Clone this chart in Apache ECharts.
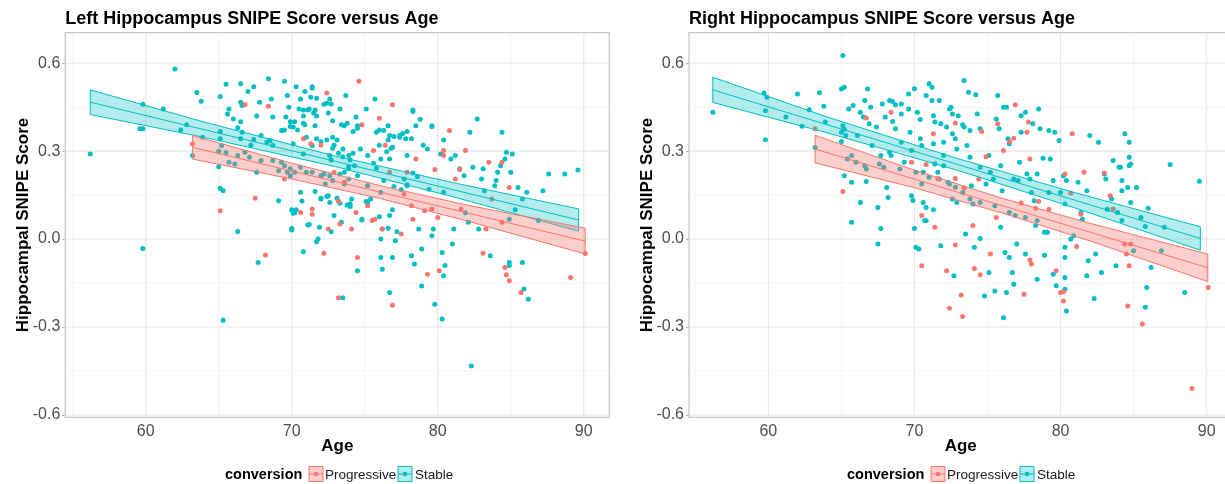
<!DOCTYPE html>
<html><head><meta charset="utf-8">
<script src="https://cdn.jsdelivr.net/npm/echarts@6/dist/echarts.min.js"></script>
<style>html,body{margin:0;padding:0;background:#fff}#c{width:1225px;height:484px}</style>
</head><body><div id="c"></div>
<script>
// ---------- tick labels & gridlines ----------
const ageTicks = [60, 70, 80, 90];
const ageMinor = [55, 65, 75, 85];
const scoreTicks = [-0.6, -0.3, 0, 0.3, 0.6];
const scoreMinor = [-0.45, -0.15, 0.15, 0.45];
const groups = ['Progressive', 'Stable'];
const titles = ['Left Hippocampus SNIPE Score versus Age', 'Right Hippocampus SNIPE Score versus Age'];

// ---------- LEFT panel points [age, score] ----------
const leftStable = [
[56.2,0.29],[59.8,-0.032],[59.8,0.46],[59.6,0.376],[59.8,0.376],[61.2,0.444],[62.0,0.58],[62.4,0.372],[62.8,0.39],[63.5,0.50],[63.8,0.47],[63.2,0.285],[63.9,0.347],
[65.1,0.486],[65.5,0.528],[65.1,0.367],[65.1,0.342],[65.2,0.319],[65.0,0.247],[65.1,0.173],[65.3,0.165],[65.3,-0.277],
[65.6,0.427],[65.7,0.444],[66.0,0.41],[66.5,0.53],[66.5,0.467],[66.6,0.456],[66.3,0.38],[66.6,0.364],[66.5,0.342],[66.3,0.026],[66.5,0.40],
[67.0,0.503],[67.4,0.52],[67.8,0.467],[67.6,0.42],[67.4,0.34],[67.2,0.32],[67.7,-0.08],[67.9,0.353],[67.6,0.228],
[68.4,0.547],[68.6,0.478],[68.7,0.416],[68.3,0.33],[68.5,0.336],[68.7,0.32],[69.1,0.131],
[69.5,0.538],[69.7,0.49],[69.8,0.45],[69.6,0.416],[69.9,0.4],[70.1,0.382],[69.3,0.37],[70.1,0.325],[70.0,0.1],[70.0,0.036],[70.2,0.09],
[70.3,0.52],[70.6,0.478],[70.5,0.444],[70.8,0.42],[70.9,0.39],[71.0,0.347],[70.8,0.29],[70.6,0.16],[70.7,0.13],[70.8,-0.043],
[71.4,0.52],[71.3,0.484],[71.2,0.444],[71.6,0.44],[71.7,0.42],[71.6,0.387],[71.4,0.319],[71.7,0.342],[71.2,0.05],[71.8,0.0],[71.9,0.04],
[72.2,0.46],[72.5,0.43],[72.6,0.478],[72.8,0.404],[72.8,0.347],[72.9,0.32],[72.6,0.285],[72.3,0.188],[72.5,0.148],[72.6,0.125],[72.0,0.137],[72.9,0.08],
[73.3,0.444],[73.6,0.387],[73.5,0.307],[73.9,0.285],[73.9,0.24],[73.6,0.188],[73.5,-0.2],[73.7,0.49],[74.0,0.12],[74.1,0.137],[73.4,0.057],[74.4,0.416],[74.5,0.387],[74.7,0.307],[74.5,-0.108],
[75.1,0.444],[75.2,0.285],[75.2,0.182],[75.4,0.137],[75.2,0.125],[74.8,0.068],[75.7,0.478],[75.8,0.364],[76.0,0.32],[76.1,0.273],[76.1,0.16],[76.1,0.0],[76.1,-0.063],[76.2,-0.103],[76.2,0.034],
[76.6,0.387],[76.7,0.353],[76.9,0.313],[76.7,0.273],[76.7,0.08],[76.9,0.1],[76.7,-0.182],[76.9,-0.063],[77.1,-0.006],
[77.4,0.353],[77.6,0.36],[77.8,0.342],[77.9,0.285],[77.7,0.205],[77.9,0.182],[78.2,0.342],[78.3,0.44],[78.5,0.387],[78.2,-0.057],[78.4,-0.085],[78.9,-0.16],[78.7,0.034],[78.9,-0.034],
[79.0,0.32],[79.3,0.307],[79.6,0.387],[79.4,0.17],[79.6,0.011],[79.7,0.034],[79.8,-0.222],[80.2,0.29],[80.4,0.16],[80.3,-0.046],[80.4,-0.125],[80.3,-0.273],[80.5,-0.09],
[80.9,0.273],[81.1,0.034],[81.0,-0.017],[81.2,0.285],[81.5,0.24],[81.8,0.216],[81.9,0.09],[82.1,0.057],[82.2,0.364],[82.3,-0.433],[82.4,0.245],[82.7,0.41],[82.8,0.034],[83.0,0.205],
[83.1,0.24],[83.2,0.165],[83.6,-0.057],[83.9,0.182],[84.0,0.2],[84.1,0.228],[84.3,0.25],[84.4,0.364],[84.6,0.273],[84.7,0.296],[84.9,-0.08],[84.9,-0.09],[85.0,0.228],[85.1,0.29],[85.3,0.1],[84.9,0.068],
[85.5,0.176],[85.8,0.137],[85.8,-0.08],[85.9,-0.17],[86.1,0.16],[86.2,-0.205],[86.9,0.063],[87.2,0.165],[87.6,0.222],[88.7,0.222],[89.6,0.236],
[65.0,0.30],[65.5,0.295],[65.7,0.262],[66.1,0.256],[66.3,0.285],[66.8,0.296],[67.1,0.279],[67.9,0.268],[68.7,0.268],[69.3,0.262],[69.5,0.25],[69.9,0.24],[70.2,0.228],[69.1,0.233],[69.7,0.228],[69.9,0.216],[70.6,0.245],[71.0,0.228],[71.4,0.228],[72.0,0.216],[72.2,0.222],[72.6,0.216],[72.8,0.2],[73.3,0.222],[73.6,0.228],[73.9,0.205],[74.3,0.25],[74.5,0.216],
[70.9,0.503],[71.4,0.515],[71.7,0.48],[72.4,0.463],[72.7,0.461],[70.8,0.44],[71.1,0.44],[71.5,0.43],[70.2,0.40],[69.9,0.384],[69.5,0.372],[70.4,0.372],[70.8,0.395],[72.0,0.332],[72.4,0.338],[73.1,0.338],[73.4,0.39],[73.8,0.395],[74.2,0.367],[74.5,0.378],
[72.8,0.31],[73.2,0.293],[73.5,0.281],[74.0,0.27],[73.9,0.247],[72.7,0.27],[74.2,0.293],[75.6,0.259],[75.8,0.242],[76.0,0.372],[76.3,0.37],[76.6,0.338],[77.0,0.35],[77.4,0.347],[76.8,0.31],[76.5,0.298],[77.9,0.367],[78.3,0.435],[78.8,0.409],[79.6,0.384],[80.4,0.338],
[76.3,0.2],[77.0,0.179],[77.5,0.168],[77.9,0.185],[78.3,0.225],[78.6,0.213],[73.1,0.139],[73.3,0.122],[73.8,0.116],[74.0,0.111],[72.0,0.139],[72.4,0.145],[71.6,0.162],[70.3,0.1],[70.1,0.088],[71.1,0.048],[70.0,0.031],[71.7,-0.009],[72.7,0.025],[74.8,0.065],[75.1,0.128],[76.0,0.076],[76.6,0.037],[77.2,0.025]
];
const leftProgressive = [
[63.2,0.325],[65.1,0.097],[66.8,0.459],[67.5,0.139],[68.2,-0.054],[68.4,0.453],[69.5,0.205],[70.6,0.091],[71.4,0.103],[71.4,0.085],[70.8,0.342],[71.3,0.325],[72.0,0.321],[72.2,-0.048],[72.4,0.498],[72.5,0.034],
[72.9,0.228],[73.2,0.129],[73.2,-0.2],[73.3,0.051],[73.6,0.194],[74.1,0.034],[74.4,0.091],[74.5,-0.063],[74.6,0.538],[74.8,0.39],[75.2,0.114],[75.5,0.063],[75.6,0.302],[75.7,0.068],[76.0,0.412],[76.2,0.034],
[76.4,0.32],[76.7,0.228],[76.9,0.458],[76.9,-0.226],[77.5,0.017],[77.7,0.154],[77.9,0.228],[78.2,0.114],[78.3,0.068],[78.5,0.273],[79.1,0.097],[79.3,-0.12],[79.6,0.103],[79.8,0.237],[80.0,0.074],[80.1,-0.108],
[80.4,0.285],[80.4,0.302],[80.8,0.37],[81.2,0.205],[81.5,0.237],[81.6,0.103],[81.9,0.302],[83.1,-0.048],[83.3,0.034],[83.5,0.262],[83.7,0.137],[84.4,0.262],[84.4,0.057],[84.6,-0.097],[84.7,-0.122],[84.9,-0.142],
[84.9,0.176],[85.7,-0.182],[89.1,-0.131],[90.1,-0.049]
];

// ---------- RIGHT panel points [age, score] ----------
const rightStable = [
[56.2,0.433],[59.7,0.498],[59.9,0.484],[59.8,0.438],[59.8,0.339],[61.2,0.416],[62.0,0.495],[62.3,0.385],[62.8,0.441],[63.2,0.312],[63.5,0.499],[63.8,0.453],[63.9,0.399],
[65.0,0.512],[65.2,0.518],[65.1,0.626],[65.0,0.364],[65.1,0.387],[65.2,0.375],[65.3,0.353],[65.0,0.333],[65.2,0.216],[65.7,0.194],[65.7,0.057],[65.5,0.444],[65.4,0.273],[65.8,0.456],[66.1,0.353],
[66.3,0.433],[66.5,0.416],[66.6,0.473],[66.8,0.512],[66.9,0.393],[66.3,0.125],[66.7,0.239],[66.7,0.196],[67.0,0.45],[67.1,0.319],[67.4,0.382],[67.5,-0.017],[67.5,0.108],[67.7,0.036],[67.7,0.285],
[67.8,0.461],[68.0,0.416],[68.3,0.473],[68.5,0.469],[68.3,0.296],[68.4,0.285],[68.5,0.401],[68.7,0.376],[68.1,0.176],[68.2,0.142],[68.7,0.458],
[69.1,0.461],[69.1,0.427],[69.1,0.33],[69.3,0.262],[69.6,0.495],[69.6,0.444],[69.7,0.364],[69.8,0.302],[69.8,0.148],[69.9,0.132],[70.0,0.036],[70.1,-0.028],[70.3,-0.034],
[70.0,0.513],[70.2,0.433],[70.4,0.408],[70.4,0.342],[70.5,0.319],[70.5,0.188],[70.6,0.125],[70.7,0.063],[70.8,0.063],[70.8,0.108],
[70.8,0.49],[71.0,0.53],[71.2,0.518],[71.2,0.473],[71.3,0.421],[71.4,0.399],[71.3,0.325],[71.4,0.256],[71.6,0.228],[71.3,0.1],[71.8,-0.023],
[71.7,0.473],[71.8,0.393],[72.0,0.33],[72.0,0.285],[72.0,0.25],[72.2,0.382],[72.3,0.194],[72.4,0.444],[72.5,0.45],[72.6,0.427],[72.7,-0.125],[72.6,0.359],[72.8,0.342],[72.9,0.307],[72.6,0.137],[72.9,0.125],
[73.0,0.421],[73.3,0.39],[73.4,0.541],[73.4,0.382],[73.6,0.319],[73.7,0.501],[73.8,0.37],[73.8,0.279],[73.9,0.182],[73.5,0.017],[74.0,0.12],[74.1,-0.028],[74.2,0.492],[74.3,0.427],[74.5,0.376],[74.5,0.245],[74.5,0.002],
[74.8,-0.194],[74.9,0.188],[75.1,-0.114],[75.1,0.285],[75.2,0.228],[75.4,0.205],[75.5,-0.177],[75.6,0.41],[75.7,0.49],[75.8,0.376],[75.9,0.04],[75.9,0.25],[76.0,0.165],[76.1,0.45],[76.1,-0.268],[76.2,-0.046],[76.3,-0.182],
[76.3,0.45],[76.4,0.342],[76.5,0.325],[76.5,-0.063],[76.7,-0.114],[76.8,-0.154],[76.8,0.205],[76.9,0.08],[77.0,-0.017],[77.1,0.2],[77.2,0.262],[77.3,0.364],[77.3,0.421],[77.6,0.433],[77.6,-0.051],[77.7,0.222],[77.9,0.205],[78.0,0.159],[78.1,0.393],[78.2,0.131],[78.3,0.046],[78.4,0.222],[78.4,-0.137],[78.5,0.444],[78.6,0.376],[78.8,0.276],[78.9,-0.055],[78.9,0.023],[79.1,0.023],[79.2,0.159],[79.2,0.37],[79.3,0.273],[79.5,0.2],[79.6,0.364],[79.5,-0.12],
[79.7,-0.159],[79.9,0.336],[80.0,0.159],[80.2,0.216],[80.3,-0.028],[80.3,-0.063],[80.3,-0.131],[80.3,-0.171],[80.4,-0.245],[80.3,0.12],[80.4,0.2],[80.7,0.0],[80.9,0.011],[81.2,0.194],[81.4,0.091],[81.5,0.068],[81.8,0.165],[81.8,-0.125],[81.9,-0.074],[82.0,0.353],[82.4,-0.051],[82.3,-0.203],[82.6,0.33],[82.8,-0.114],[83.0,0.222],[83.1,0.205],[83.2,0.102],[83.5,0.137],[83.6,0.268],[83.8,-0.091],[83.9,0.091],[84.0,0.245],[84.2,0.2],[84.2,0.165],[84.2,0.063],[84.1,0.245],[84.4,0.359],[84.6,0.176],[84.7,0.33],[84.7,0.25],[84.7,0.279],[84.8,0.125],[84.8,0.256],[85.0,-0.04],[85.2,0.176],[85.5,0.074],[85.8,0.043],[85.9,-0.165],[85.8,-0.233],[86.0,0.105],[86.2,-0.097],[86.9,-0.04],[87.1,0.04],[87.5,0.254],[88.5,-0.182],[89.5,0.197],
[65.7,0.285],[66.0,0.262],[66.6,0.25],[67.6,0.256],[67.9,0.245],[69.0,0.239],[70.1,0.228],[70.6,0.228],[71.0,0.211],[71.7,0.205],[72.4,0.188],[72.8,0.177],[73.3,0.159],[73.8,0.137],[74.5,0.125],[75.5,0.114],[76.5,0.091],[77.6,0.074],[78.4,0.063]
];
const rightProgressive = [
[63.2,0.376],[65.1,0.162],[66.7,0.413],[68.4,0.433],[69.8,0.262],[70.5,0.08],[70.5,-0.091],[70.8,0.254],[71.3,0.359],[71.4,0.04],[71.6,0.207],[72.2,-0.108],[72.4,-0.236],[72.8,0.207],[72.8,-0.02],[72.8,0.396],
[73.2,-0.191],[73.3,-0.264],[73.4,0.174],[74.0,0.046],[74.1,-0.1],[74.4,0.205],[74.5,-0.122],[74.6,0.367],[74.9,0.281],[75.2,-0.051],[75.6,0.074],[75.7,0.393],[76.1,0.302],[76.5,0.333],[76.8,0.344],[76.9,0.458],
[77.3,0.123],[77.5,-0.188],[77.7,0.364],[77.8,0.399],[77.9,0.273],[77.9,-0.071],[78.0,-0.085],[78.3,0.105],[78.5,0.128],[79.2,0.102],[79.7,-0.108],[80.0,-0.182],[80.2,-0.211],[80.2,-0.18],[80.3,0.222],[80.8,0.359],
[80.7,0.157],[81.1,-0.025],[81.6,0.228],[81.4,0.085],[83.0,0.225],[83.4,0.148],[83.6,0.103],[84.4,-0.017],[84.5,-0.051],[84.6,-0.228],[84.8,-0.017],[84.7,-0.091],[85.6,-0.29],[89.0,-0.51],[90.1,-0.165]
];

// ---------- fitted lines (endpoints) & confidence bands ----------
const leftStableFitAge = [56.2, 89.65], leftStableFit = [0.467, 0.065];
const leftStableBandAge = [56.2, 64, 73, 81, 89.65];
const leftStableLow = [0.425, 0.347, 0.247, 0.145, 0.027];
const leftStableHigh = [0.509, 0.399, 0.283, 0.193, 0.103];
const leftProgFitAge = [63.2, 90.1], leftProgFit = [0.313, -0.007];
const leftProgBandAge = [63.2, 70, 76, 82, 90.1];
const leftProgLow = [0.273, 0.205, 0.139, 0.062, -0.051];
const leftProgHigh = [0.353, 0.259, 0.183, 0.116, 0.037];

const rightStableFitAge = [56.2, 89.57], rightStableFit = [0.509, 0.002];
const rightStableBandAge = [56.2, 64, 73, 81, 89.57];
const rightStableLow = [0.466, 0.363, 0.234, 0.106, -0.038];
const rightStableHigh = [0.552, 0.417, 0.274, 0.158, 0.042];
const rightProgFitAge = [63.2, 90.08], rightProgFit = [0.307, -0.098];
const rightProgBandAge = [63.2, 70, 76, 82, 90.08];
const rightProgLow = [0.26, 0.175, 0.089, -0.006, -0.145];
const rightProgHigh = [0.354, 0.235, 0.139, 0.054, -0.051];

// ---------- styling ----------
const FONT = 'Liberation Sans, Arial, Helvetica, sans-serif';
const RED = '#F8766D', TEAL = '#00BFC4';
const RED_FILL = 'rgba(248,118,109,0.35)', TEAL_FILL = 'rgba(0,191,196,0.3)';
const panels = [
  {left: 65.3, width: 544, xMin: 54.49, xMax: 91.75},
  {left: 689, width: 543.5, xMin: 54.57, xMax: 91.77}
];
const Y_MIN = -0.608, Y_MAX = 0.704;

const chart = echarts.init(document.getElementById('c'), null, {renderer: 'canvas'});

function gridLineSeries(gi, values, dir, color, width) {
  const p = panels[gi];
  return {
    type: 'custom', xAxisIndex: gi, yAxisIndex: gi, z: 1, silent: true, animation: false,
    encode: {x: 0, y: 1},
    data: values.map(v => dir === 'h' ? [p.xMin, v] : [v, Y_MIN]),
    renderItem(params, api) {
      const cs = params.coordSys;
      const pt = api.coord([api.value(0), api.value(1)]);
      const shape = dir === 'h'
        ? {x1: cs.x, y1: pt[1], x2: cs.x + cs.width, y2: pt[1]}
        : {x1: pt[0], y1: cs.y, x2: pt[0], y2: cs.y + cs.height};
      return {type: 'line', shape, style: {stroke: color, lineWidth: width}};
    }
  };
}

function bandSeries(gi, ages, low, high, fitAge, fit, color, fill) {
  return {
    type: 'custom', xAxisIndex: gi, yAxisIndex: gi, z: 5, silent: true, animation: false,
    encode: {x: 0, y: [1, 2]},
    data: ages.map((a, i) => [a, low[i], high[i]]),
    renderItem(params, api) {
      if (params.dataIndex !== 0) return null;
      const up = ages.map((a, i) => api.coord([a, high[i]]));
      const lo = ages.map((a, i) => api.coord([a, low[i]])).reverse();
      const ce = fitAge.map((a, i) => api.coord([a, fit[i]]));
      return {type: 'group', children: [
        {type: 'polygon', shape: {points: up.concat(lo)}, style: {fill: fill, stroke: color, lineWidth: 1}},
        {type: 'polyline', shape: {points: ce}, style: {fill: null, stroke: color, lineWidth: 1}}
      ]};
    }
  };
}

function scatterSeries(gi, data, color, name) {
  return {type: 'scatter', name, xAxisIndex: gi, yAxisIndex: gi, z: 3, data,
    symbolSize: 5, itemStyle: {color, opacity: 1}, silent: true, animation: false};
}

const grids = [], xAxes = [], yAxes = [], series = [], titleList = [];
panels.forEach((p, gi) => {
  grids.push({left: p.left, top: 32.7, width: p.width, height: 384.6, show: true,
    outerBoundsMode: 'none', containLabel: false,
    borderColor: '#c6c6c6', borderWidth: 1.3, backgroundColor: '#fff'});
  xAxes.push({gridIndex: gi, type: 'value', min: p.xMin, max: p.xMax,
    axisLine: {show: false}, splitLine: {show: false},
    axisTick: {show: true, customValues: ageTicks, length: 3, lineStyle: {color: '#b3b3b3'}},
    axisLabel: {customValues: ageTicks, fontSize: 16, color: '#4d4d4d', margin: 6, fontFamily: FONT},
    name: 'Age', nameLocation: 'middle', nameGap: 21, nameMoveOverlap: false,
    nameTextStyle: {fontSize: 17, fontWeight: 'bold', color: '#000', fontFamily: FONT}});
  yAxes.push({gridIndex: gi, type: 'value', min: Y_MIN, max: Y_MAX,
    axisLine: {show: false}, splitLine: {show: false},
    axisTick: {show: true, customValues: scoreTicks, length: 3, lineStyle: {color: '#b3b3b3'}},
    axisLabel: {customValues: scoreTicks, fontSize: 16, color: '#4d4d4d', margin: 5, fontFamily: FONT,
      formatter: v => v.toFixed(1)},
    name: 'Hippocampal SNIPE Score', nameLocation: 'middle', nameGap: 33, nameMoveOverlap: false,
    nameTextStyle: {fontSize: 17, fontWeight: 'bold', color: '#000', fontFamily: FONT}});
  titleList.push({text: titles[gi], left: p.left, top: 10, padding: 0,
    textStyle: {fontSize: 18, fontWeight: 'bold', color: '#000', fontFamily: FONT}});
  series.push(gridLineSeries(gi, scoreMinor, 'h', '#f3f3f3', 0.8));
  series.push(gridLineSeries(gi, ageMinor, 'v', '#f3f3f3', 0.8));
  series.push(gridLineSeries(gi, scoreTicks, 'h', '#e8e8e8', 1.1));
  series.push(gridLineSeries(gi, ageTicks, 'v', '#e8e8e8', 1.1));
});

series.push(scatterSeries(0, leftStable, TEAL, groups[1]));
series.push(scatterSeries(0, leftProgressive, RED, groups[0]));
series.push(scatterSeries(1, rightStable, TEAL, groups[1]));
series.push(scatterSeries(1, rightProgressive, RED, groups[0]));
series.push(bandSeries(0, leftStableBandAge, leftStableLow, leftStableHigh, leftStableFitAge, leftStableFit, TEAL, TEAL_FILL));
series.push(bandSeries(0, leftProgBandAge, leftProgLow, leftProgHigh, leftProgFitAge, leftProgFit, RED, RED_FILL));
series.push(bandSeries(1, rightStableBandAge, rightStableLow, rightStableHigh, rightStableFitAge, rightStableFit, TEAL, TEAL_FILL));
series.push(bandSeries(1, rightProgBandAge, rightProgLow, rightProgHigh, rightProgFitAge, rightProgFit, RED, RED_FILL));

// ---------- legends (one under each panel) ----------
function legendGroup(x0) {
  const cy = 474;
  const key = (x, color, fill) => ({type: 'group', children: [
    {type: 'rect', shape: {x: x, y: cy - 7.5, width: 14, height: 15}, style: {fill: fill, stroke: color, lineWidth: 1}},
    {type: 'line', shape: {x1: x, y1: cy, x2: x + 14, y2: cy}, style: {stroke: color, lineWidth: 1}},
    {type: 'circle', shape: {cx: x + 7, cy: cy, r: 2.3}, style: {fill: color}}
  ]});
  return [
    {type: 'text', x: x0, y: cy + 1, style: {text: 'conversion', fill: '#000', font: 'bold 14.5px ' + FONT, verticalAlign: 'middle'}},
    key(x0 + 84, RED, RED_FILL),
    {type: 'text', x: x0 + 100, y: cy + 1, style: {text: groups[0], fill: '#1a1a1a', font: '13.5px ' + FONT, verticalAlign: 'middle'}},
    key(x0 + 173, TEAL, TEAL_FILL),
    {type: 'text', x: x0 + 190, y: cy + 1, style: {text: groups[1], fill: '#1a1a1a', font: '13.5px ' + FONT, verticalAlign: 'middle'}}
  ];
}

chart.setOption({
  backgroundColor: '#fff',
  animation: false,
  title: titleList,
  grid: grids,
  xAxis: xAxes,
  yAxis: yAxes,
  series: series,
  graphic: legendGroup(225).concat(legendGroup(847))
});
</script>
</body></html>
